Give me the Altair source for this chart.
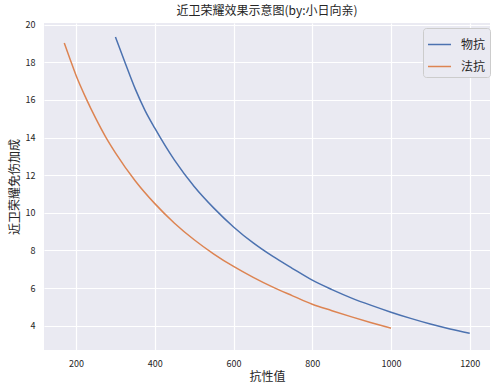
import altair as alt
import pandas as pd

# 物抗 series (x: 抗性值, y: 近卫荣耀免伤加成)
phys_x = [300, 325, 350, 375, 400, 450, 500, 550, 600, 650, 700, 750, 800,
          850, 900, 950, 1000, 1050, 1100, 1150, 1200]
phys_y = [19.35, 17.95, 16.6, 15.45, 14.5, 12.8, 11.4, 10.25, 9.25, 8.4, 7.68,
          7.04, 6.42, 5.92, 5.47, 5.08, 4.72, 4.39, 4.09, 3.83, 3.6]

# 法抗 series
mag_x = [170, 185, 200, 225, 250, 275, 300, 350, 400, 450, 500, 550, 600,
         650, 700, 750, 800, 850, 900, 950, 1000]
mag_y = [19.03, 18.15, 17.3, 16.1, 15.02, 14.04, 13.19, 11.71, 10.49, 9.45,
         8.57, 7.81, 7.15, 6.57, 6.05, 5.59, 5.14, 4.8, 4.47, 4.16, 3.87]

series_names = ["物抗", "法抗"]
series_colors = ["#4C72B0", "#DD8452"]

x_ticks = [200, 400, 600, 800, 1000, 1200]
y_ticks = [4, 6, 8, 10, 12, 14, 16, 18, 20]

df = pd.concat([
    pd.DataFrame({"x": phys_x, "y": phys_y, "s": series_names[0], "o": range(len(phys_x))}),
    pd.DataFrame({"x": mag_x, "y": mag_y, "s": series_names[1], "o": range(len(mag_x))}),
])

FONT = "Noto Sans CJK SC"
TXT = "#262626"

chart = alt.Chart(df, background="#FFFFFF").mark_line(
    strokeWidth=1.5, interpolate="monotone"
).encode(
    x=alt.X("x:Q", scale=alt.Scale(domain=[118.5, 1251.5], nice=False, zero=False),
            axis=alt.Axis(values=x_ticks, format="d", title="抗性值", labelFontSize=9,
                          labelPadding=9, titlePadding=3, titleFontSize=12)),
    y=alt.Y("y:Q", scale=alt.Scale(domain=[2.71, 20.09], nice=False, zero=False),
            axis=alt.Axis(values=y_ticks, format="d", title="近卫荣耀免伤加成", labelFontSize=9,
                          labelPadding=9, titlePadding=4, titleFontSize=12)),
    color=alt.Color("s:N", scale=alt.Scale(domain=series_names, range=series_colors),
                    title=None,
                    legend=alt.Legend(orient="none", legendX=379, legendY=5,
                                      fillColor="#EAEAF2", strokeColor="#CCCCCC",
                                      cornerRadius=3, padding=4, symbolType="stroke",
                                      symbolSize=529, symbolStrokeWidth=1.5,
                                      labelFontSize=12, labelOffset=9, rowPadding=3,
                                      labelColor=TXT, labelFont=FONT)),
    order="o:Q",
).properties(
    width=446, height=327,
    title=alt.TitleParams("近卫荣耀效果示意图(by:小日向亲)", fontSize=12, fontWeight="normal",
                          color=TXT, font=FONT, offset=3),
    autosize=alt.AutoSizeParams(type="none"),
    padding={"left": 44, "top": 23, "right": 12, "bottom": 39},
).configure_view(
    fill="#EAEAF2", stroke=None
).configure_axis(
    grid=True, gridColor="#FFFFFF", gridWidth=1.2, domain=False, ticks=False, tickSize=0,
    labelFont=FONT, titleFont=FONT, labelColor=TXT, titleColor=TXT, titleFontWeight="normal",
)

chart.save("out.html", embed_options={"renderer": "svg", "actions": False})
